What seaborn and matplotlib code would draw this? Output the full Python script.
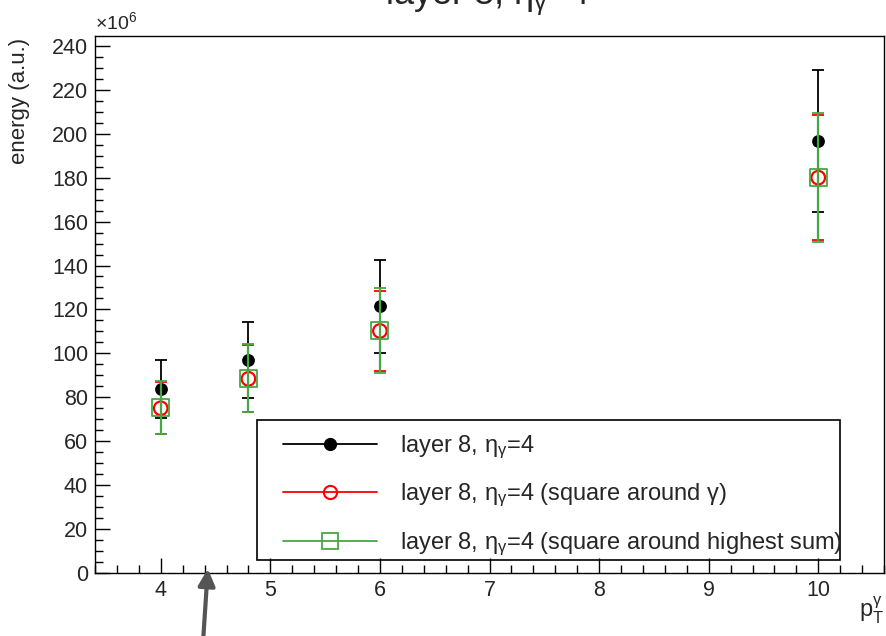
import matplotlib
matplotlib.use("Agg")
import matplotlib.pyplot as plt
import seaborn as sns
import pandas as pd
from matplotlib.lines import Line2D
from matplotlib.patches import Rectangle, FancyArrowPatch
from matplotlib.ticker import MultipleLocator

sns.set_theme(style="white")
plt.rcParams['font.family'] = ['Liberation Sans', 'DejaVu Sans']
plt.rcParams['mathtext.fontset'] = 'custom'
plt.rcParams['mathtext.rm'] = 'Liberation Sans'
plt.rcParams['mathtext.it'] = 'Liberation Sans'

# Daten (Energie in Einheiten von 1e6)
pt = [4.0, 4.8, 6.0, 10.0]
black_val = [83.6, 97.1, 121.4, 196.8]
black_err = [13.2, 17.2, 21.2, 32.3]
red_val = [75.0, 88.4, 110.2, 180.0]
red_err = [11.8, 15.3, 18.4, 28.6]
green_val = [75.3, 88.6, 110.4, 180.2]
green_err = [12.0, 15.5, 19.4, 29.3]

eta = r"η$_{\mathregular{γ}}$"
lbl_black = "layer 8, " + eta + "=4"
lbl_red = "layer 8, " + eta + "=4 (square around γ)"
lbl_green = "layer 8, " + eta + "=4 (square around highest sum)"

df = pd.DataFrame({
    'pt': pt * 3,
    'energy': black_val + red_val + green_val,
    'err': black_err + red_err + green_err,
    'serie': ['black'] * 4 + ['red'] * 4 + ['green'] * 4,
})

fig = plt.figure(figsize=(8.87, 6.36), dpi=100)
ax = fig.add_axes([95 / 887, 63 / 636, 789 / 887, 537 / 636])

green = '#44a844'

# Schwarz
d = df[df.serie == 'black']
ax.errorbar(d.pt, d.energy, yerr=d.err, fmt='none', ecolor='black', elinewidth=1.3, capsize=4, capthick=1.3, zorder=2)
sns.scatterplot(x=d.pt, y=d.energy, ax=ax, marker='o', s=85, color='black', edgecolor='black', linewidth=0, zorder=3)
# Rot
d = df[df.serie == 'red']
ax.errorbar(d.pt, d.energy, yerr=d.err, fmt='none', ecolor='red', elinewidth=1.3, capsize=4, capthick=1.3, zorder=4)
sns.scatterplot(x=d.pt, y=d.energy, ax=ax, marker='o', s=95, facecolor='none', edgecolor='red', linewidth=1.6, zorder=5)
# Grün
d = df[df.serie == 'green']
ax.errorbar(d.pt, d.energy, yerr=d.err, fmt='none', ecolor=green, elinewidth=1.6, capsize=4, capthick=1.3, zorder=6)
sns.scatterplot(x=d.pt, y=d.energy, ax=ax, marker='s', s=150, facecolor='none', edgecolor=green, linewidth=1.3, zorder=7)

ax.set_xlim(3.4, 10.6)
ax.set_ylim(0, 244.5)
ax.set_xlabel('')
ax.set_ylabel('')
ax.xaxis.set_major_locator(MultipleLocator(1))
ax.xaxis.set_minor_locator(MultipleLocator(0.2))
ax.yaxis.set_major_locator(MultipleLocator(20))
ax.yaxis.set_minor_locator(MultipleLocator(5))
ax.tick_params(which='both', direction='in', top=False, right=False, bottom=True, left=True,
               labelsize=15.5, color='black', width=1, pad=5)
ax.tick_params(which='major', length=11)
ax.tick_params(which='minor', length=5.5)
for s in ax.spines.values():
    s.set_color('black')
    s.set_linewidth(1)

# Legende mit eigenem Rahmen
ax.add_patch(Rectangle((0.205, 0.024), 0.739, 0.261, transform=ax.transAxes,
                       fill=False, edgecolor='black', linewidth=1.2, zorder=8))
handles = [
    Line2D([], [], color='black', lw=1.3, marker='o', markersize=8.5, markerfacecolor='black'),
    Line2D([], [], color='red', lw=1.3, marker='o', markersize=9.5, markerfacecolor='none', markeredgewidth=1.5),
    Line2D([], [], color=green, lw=1.3, marker='s', markersize=11, markerfacecolor='none', markeredgewidth=1.3),
]
leg = ax.legend(handles, [lbl_black, lbl_red, lbl_green], loc='upper left',
                bbox_to_anchor=(0.238, 0.26), frameon=False, fontsize=17,
                handlelength=4.0, handletextpad=0.95, labelspacing=0.9,
                borderpad=0, borderaxespad=0)
leg.set_zorder(9)

# Texte
fig.text(487 / 887, 1 - 4 / 636, "layer 8, " + eta + "=4", ha='center', va='baseline', fontsize=26)
fig.text(95 / 887, 1 - 22 / 636, r"×10$^{\mathregular{6}}$", ha='left', va='center', fontsize=14)
fig.text(20 / 887, 1 - 38 / 636, "energy (a.u.)", rotation=90, ha='center', va='top', fontsize=16)
fig.text(884 / 887, 1 - 610 / 636, r"p$_{\mathregular{T}}^{\mathregular{γ}}$", ha='right', va='center', fontsize=17)

# Grauer Pfeil
fig.patches.append(FancyArrowPatch(
    (203 / 887, -0.01), (208 / 887, 1 - 566 / 636), transform=fig.transFigure,
    arrowstyle='-|>', mutation_scale=25, color='#555555', lw=3))

fig.savefig('out.png', dpi=100)
